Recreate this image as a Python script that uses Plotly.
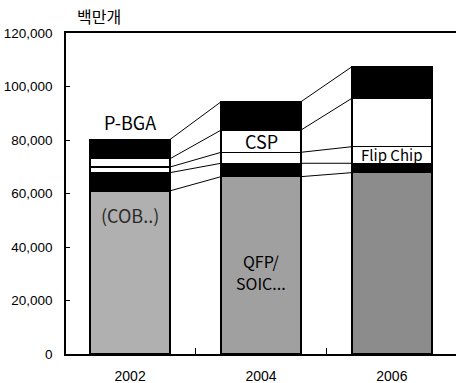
import plotly.graph_objects as go

years = ["2002", "2004", "2006"]
# segment heights (million units), bottom to top
seg_gray = [61000, 66300, 67800]      # QFP/SOIC.. (COB..)
seg_black_low = [6800, 5000, 3500]
seg_flip = [2100, 4100, 6200]         # Flip Chip
seg_csp = [3100, 8300, 18100]         # CSP
seg_pbga = [7200, 10600, 11800]       # P-BGA

y_ticks = [0, 20000, 40000, 60000, 80000, 100000, 120000]
y_ticklabels = ["0", "20,000", "40,000", "60,000", "80,000", "100,000", "120,000"]
unit_label = "백만개"

xs = list(range(len(years)))
W = 0.61
segments = [seg_gray, seg_black_low, seg_flip, seg_csp, seg_pbga]
colors = [["#b0b0b0", "#a0a0a0", "#8c8c8c"], "#000000", "#ffffff", "#ffffff", "#000000"]

fig = go.Figure()
for seg, col in zip(segments, colors):
    fig.add_trace(go.Bar(x=xs, y=seg, width=W, marker=dict(color=col, line=dict(color="#000000", width=1.5)),
                         showlegend=False, hoverinfo="skip"))

# cumulative tops
cum = []
run = [0] * len(xs)
for seg in segments:
    run = [r + v for r, v in zip(run, seg)]
    cum.append(run[:])

# series connecting lines
for level in cum:
    for i in range(len(xs) - 1):
        fig.add_trace(go.Scatter(x=[xs[i] + W / 2, xs[i + 1] - W / 2], y=[level[i], level[i + 1]],
                                 mode="lines", line=dict(color="#000000", width=1),
                                 showlegend=False, hoverinfo="skip"))

FAM = "Noto Sans CJK KR, Liberation Sans, sans-serif"
ann = [
    dict(x=0, y=cum[4][0], text="P-BGA", yanchor="bottom", yshift=2, showarrow=False,
         font=dict(family=FAM, size=18, color="#000000")),
    dict(x=1, y=(cum[2][1] + cum[3][1]) / 2, text="CSP", showarrow=False,
         font=dict(family=FAM, size=18, color="#000000")),
    dict(x=2, y=(cum[1][2] + cum[2][2]) / 2, text="Flip Chip", showarrow=False,
         font=dict(family=FAM, size=15, color="#000000")),
    dict(x=0, y=52000, text="(COB..)", showarrow=False,
         font=dict(family=FAM, size=18, color="#2a2a2a")),
    dict(x=1, y=34800, text="QFP/", showarrow=False,
         font=dict(family=FAM, size=16, color="#000000")),
    dict(x=1, y=26600, text="SOIC...", showarrow=False,
         font=dict(family=FAM, size=16, color="#000000")),
    dict(xref="paper", yref="paper", x=0.022, y=1, xanchor="left", yanchor="bottom", yshift=3,
         text=unit_label, showarrow=False,
         font=dict(family="Noto Sans CJK KR, sans-serif", size=16, color="#000000")),
]

fig.update_layout(
    barmode="stack",
    width=456, height=383,
    margin=dict(l=66, r=0, t=33, b=29),
    paper_bgcolor="#ffffff", plot_bgcolor="#ffffff",
    annotations=ann,
    font=dict(family="Liberation Sans, sans-serif", size=14, color="#000000"),
)
fig.update_xaxes(
    range=[-0.49, 2.49], tickvals=xs, ticktext=years, ticks="",
    showline=True, linecolor="#000000", linewidth=1.5, mirror=True,
    showgrid=False, zeroline=False, ticklabelstandoff=8,
    tickfont=dict(family="Liberation Sans, sans-serif", size=14),
    minor=dict(tick0=0.5, dtick=1, ticks="inside", ticklen=6, tickcolor="#000000", showgrid=False),
)
fig.update_yaxes(
    range=[0, 120000], tickvals=y_ticks, ticktext=y_ticklabels,
    ticks="inside", ticklen=4, tickcolor="#000000",
    showline=True, linecolor="#000000", linewidth=1.5,
    showgrid=False, zeroline=False, ticklabelstandoff=9,
    tickfont=dict(family="Liberation Sans, sans-serif", size=13.5),
)

fig.write_html("out.html")
